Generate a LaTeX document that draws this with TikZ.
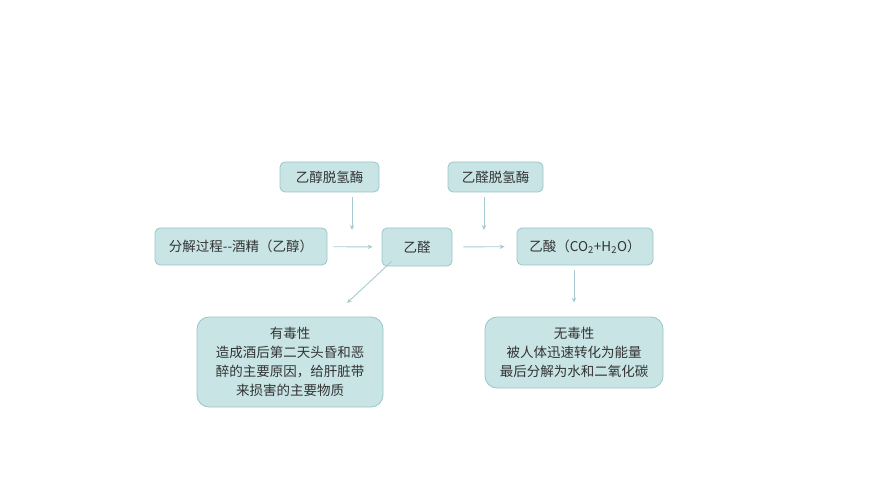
\documentclass[tikz,border=0pt]{standalone}
\usepackage{fontspec}
\setmainfont{Noto Sans CJK SC}
\usetikzlibrary{arrows.meta}
\definecolor{boxfill}{HTML}{C8E4E5}
\definecolor{boxline}{HTML}{98C6CB}
\definecolor{arrline}{HTML}{A6CCD1}
\definecolor{txt}{HTML}{333333}
\begin{document}
\begin{tikzpicture}[x=1pt,y=-1pt,
  box/.style={draw=boxline, fill=boxfill, line width=0.8pt, rounded corners=5pt,
    inner sep=0pt, text=txt, font=\fontsize{13.5}{19}\selectfont, align=center},
  bigbox/.style={box, rounded corners=12pt},
  arr/.style={draw=arrline, line width=0.9pt, -{Stealth[length=5pt,width=4.5pt]}}]
  \useasboundingbox (0,0) rectangle (878,497);

  % Enzymes
  \node[box, minimum width=99pt, minimum height=30pt] (ezh) at (329.5,177) {乙醇脱氢酶};
  \node[box, minimum width=95pt, minimum height=30pt] (qzh) at (495.5,177) {乙醛脱氢酶};

  % Main chain
  \node[box, minimum width=172pt, minimum height=37pt] (fenjie) at (241,246.5) {分解过程-{}-酒精（乙醇）};
  \node[box, minimum width=70pt, minimum height=38pt] (yiquan) at (417,247) {乙醛};
  \node[box, minimum width=136pt, minimum height=37pt] (yisuan) at (585,246.5) {乙酸（CO\textsubscript{2}+H\textsubscript{2}O）};

  % Results
  \node[bigbox, minimum width=186pt, minimum height=90pt] (youdu) at (290,362)
    {有毒性\\造成酒后第二天头昏和恶\\醉的主要原因，给肝脏带\\来损害的主要物质};
  \node[bigbox, minimum width=178pt, minimum height=71pt] (wudu) at (574,352.5)
    {无毒性\\被人体迅速转化为能量\\最后分解为水和二氧化碳};

  % Arrows
  \coordinate (a1) at (352,230);
  \coordinate (a2) at (484,230);
  \coordinate (d2) at (347,303);
  \draw[arr, shorten <=5pt] (ezh.south -| a1) -- (a1);
  \draw[arr, shorten <=5pt] (qzh.south -| a2) -- (a2);
  \draw[arr, shorten <=6pt, shorten >=9pt] (fenjie) -- (yiquan);
  \draw[arr, shorten <=11pt, shorten >=12pt] (yiquan) -- (yisuan);
  \draw[arr] ([xshift=10pt,yshift=5pt]yiquan.south west) -- (d2);
  \draw[arr, shorten <=5pt, shorten >=14pt] (yisuan.south -| wudu.north) -- (wudu.north);
\end{tikzpicture}
\end{document}
